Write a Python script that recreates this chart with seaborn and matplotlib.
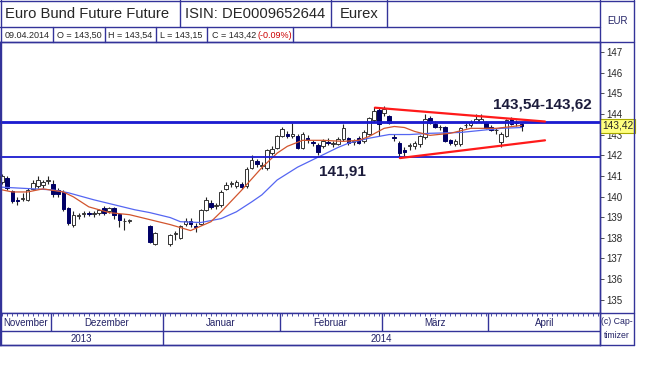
import numpy as np
import pandas as pd
import seaborn as sns
import matplotlib.pyplot as plt
import matplotlib.transforms as mtransforms

nan = np.nan

# daily candles 18.11.2013 - 09.04.2014 (nan = Eurex closed)
opens = [140.70, 140.90, 140.25, 139.85, 139.90, 139.85, 140.35, 140.50, 140.55, 140.75,
         140.60, 140.30, 140.20, 139.45, 138.60, 139.05, 139.15, 139.20, 139.15, 139.20,
         139.45, 139.30, 139.45, 139.15, 138.80, 138.80, nan, nan, nan, 138.55,
         137.70, nan, nan, 137.70, 138.20, 138.00, 138.65, 138.80, 138.55, 138.65,
         139.35, 139.70, 139.55, 139.60, 140.35, 140.60, 140.50, 140.60, 140.50, 141.40,
         141.70, 141.50, 141.40, 142.10, 142.35, 142.95, 143.05, 142.95, 142.95, 142.35,
         142.85, 142.65, 142.50, 142.45, 142.65, 142.55, 142.55, 142.80, 142.85, 142.65,
         142.85, 142.70, 143.05, 143.70, 144.20, 144.05, 143.90, 142.90, 142.60, 142.25,
         142.45, 142.45, 142.55, 142.90, 143.80, 143.50, 143.35, 143.35, 142.72, 142.55,
         142.55, 143.45, 143.45, 143.60, 143.60, 143.60, 143.35, 143.20, 142.65, 142.95,
         143.75, 143.60, 143.50]
highs = [141.10, 141.00, 140.30, 140.00, 140.15, 140.40, 140.80, 141.00, 140.80, 141.00,
         140.80, 140.40, 140.30, 139.50, 139.30, 139.20, 139.30, 139.30, 139.30, 139.40,
         139.55, 139.50, 139.50, 139.20, 138.95, 138.90, nan, nan, nan, 138.60,
         138.30, nan, nan, 138.20, 138.35, 138.60, 138.95, 138.95, 138.70, 139.40,
         140.00, 139.85, 139.70, 140.30, 140.70, 140.75, 140.80, 140.70, 141.45, 142.00,
         141.80, 141.65, 142.30, 142.45, 143.00, 143.35, 143.15, 143.55, 143.05, 143.10,
         143.00, 142.75, 142.60, 142.80, 142.85, 142.70, 142.90, 143.50, 142.90, 142.80,
         142.95, 143.20, 143.85, 144.35, 144.30, 144.40, 143.95, 143.05, 142.70, 142.40,
         142.60, 142.70, 143.00, 144.00, 143.90, 143.65, 143.45, 143.40, 142.80, 142.80,
         143.35, 143.55, 143.70, 144.00, 144.00, 143.65, 143.45, 143.30, 143.10, 143.75,
         143.85, 143.70, 143.54]
lows = [140.60, 140.30, 139.70, 139.60, 139.80, 139.80, 140.30, 140.40, 140.40, 140.60,
        140.00, 140.00, 139.30, 138.60, 138.50, 138.90, 139.00, 139.05, 139.00, 139.10,
        139.10, 139.20, 138.90, 138.50, 138.40, 138.70, nan, nan, nan, 137.75,
        137.65, nan, nan, 137.60, 137.90, 137.95, 138.55, 138.50, 138.30, 138.60,
        139.30, 139.40, 139.40, 139.50, 140.30, 140.45, 140.40, 140.35, 140.40, 141.35,
        141.45, 141.35, 141.30, 142.00, 142.30, 142.90, 142.85, 142.85, 142.30, 142.30,
        142.60, 142.45, 142.00, 142.35, 142.50, 142.40, 142.50, 142.70, 142.50, 142.50,
        142.55, 142.60, 143.00, 143.60, 142.95, 143.90, 143.50, 142.70, 141.91, 141.95,
        142.25, 142.30, 142.40, 142.80, 143.50, 143.30, 143.20, 142.65, 142.50, 142.45,
        142.45, 143.30, 143.35, 143.55, 143.55, 143.25, 143.15, 143.05, 142.40, 142.90,
        143.45, 143.40, 143.15]
closes = [141.00, 140.40, 139.80, 139.80, 139.95, 140.30, 140.65, 140.80, 140.70, 140.80,
          140.10, 140.10, 139.40, 138.70, 139.10, 139.10, 139.20, 139.15, 139.20, 139.35,
          139.20, 139.45, 139.10, 138.85, 138.80, 138.85, nan, nan, nan, 137.80,
          138.25, nan, nan, 138.15, 138.25, 138.55, 138.80, 138.65, 138.50, 139.35,
          139.85, 139.50, 139.60, 140.20, 140.55, 140.65, 140.70, 140.45, 141.35, 141.75,
          141.55, 141.50, 142.25, 142.30, 142.95, 143.25, 142.95, 143.05, 142.35, 143.05,
          142.75, 142.60, 142.15, 142.70, 142.60, 142.55, 142.80, 143.30, 142.60, 142.65,
          142.60, 143.10, 143.80, 144.15, 143.50, 144.25, 143.55, 142.85, 142.10, 142.15,
          142.50, 142.60, 142.95, 143.75, 143.55, 143.35, 143.35, 142.70, 142.58, 142.70,
          143.30, 143.45, 143.60, 143.75, 143.75, 143.30, 143.20, 143.20, 143.05, 143.70,
          143.50, 143.55, 143.42]

# moving averages (day index, value)
ma_slow_days = [0, 10, 13, 18, 22, 26, 29, 33, 35, 39, 43, 46, 49, 51, 54, 58, 62, 66, 68,
                72, 76, 80, 84, 90, 98, 102]
ma_slow_vals = [140.45, 140.32, 140.18, 139.84, 139.60, 139.36, 139.22, 138.98, 138.78, 138.74,
                138.93, 139.26, 139.74, 140.08, 140.80, 141.42, 141.90, 142.38, 142.58,
                142.82, 143.00, 143.00, 143.06, 143.10, 143.30, 143.34]
ma_fast_days = [0, 2, 5, 8, 12, 14, 17, 21, 25, 29, 33, 37, 41, 43, 47, 51, 54, 56, 59, 63,
                67, 70, 72, 75, 77, 79, 81, 84, 88, 92, 97, 102]
ma_fast_vals = [140.32, 140.22, 140.22, 140.37, 140.22, 139.98, 139.50, 139.22, 139.12, 138.88,
                138.64, 138.35, 138.78, 139.26, 140.30, 141.40, 142.10, 142.43, 142.72, 142.72,
                142.67, 142.72, 142.90, 143.30, 143.39, 143.34, 143.15, 142.96, 143.06, 143.30,
                143.30, 143.44]

# support / resistance levels and triangle lines
levels = [143.54, 143.62, 141.91]
upper_days, upper_vals = [73.2, 106.6], [144.30, 143.63]
lower_days, lower_vals = [78.1, 106.6], [141.86, 142.72]
y_ticks = list(range(135, 148))

NAVY = '#333399'
W, H = 650, 365

sns.set_style("white")
plt.rcParams['font.family'] = ['Liberation Sans', 'DejaVu Sans']

dates = pd.bdate_range('2013-11-18', periods=118)
x = np.arange(len(opens))
o, h, l, c = map(np.array, (opens, highs, lows, closes))
xlim = (-0.43, 117.4)

fig = plt.figure(figsize=(W / 100, H / 100), dpi=100)
ax = fig.add_axes([0, (H - 313) / H, 600 / W, (313 - 42) / H])

# candles
ok = ~np.isnan(o)
up = ok & (c >= o)
dn = ok & (c < o)
ax.vlines(x[ok], l[ok], h[ok], color='#222222', lw=0.8, zorder=2)
body = np.maximum(np.abs(c - o), 0.03)
ax.bar(x[up], body[up], bottom=np.minimum(o, c)[up], width=0.7,
       color='white', edgecolor='#333333', linewidth=0.7, zorder=3)
ax.bar(x[dn], body[dn], bottom=np.minimum(o, c)[dn], width=0.7,
       color='#000066', edgecolor='#000066', linewidth=0.7, zorder=3)

sns.lineplot(x=ma_slow_days, y=ma_slow_vals, ax=ax, color='#5566f2', lw=0.9, zorder=4)
sns.lineplot(x=ma_fast_days, y=ma_fast_vals, ax=ax, color='#d2552e', lw=0.9, zorder=4)

for lv in levels:
    ax.axhline(lv, color='#1a1ad0', lw=1.3, zorder=5)
sns.lineplot(x=upper_days, y=upper_vals, ax=ax, color='#ff1a1a', lw=1.6, zorder=6)
sns.lineplot(x=lower_days, y=lower_vals, ax=ax, color='#ff1a1a', lw=1.6, zorder=6)

def fmt(v):
    return f"{v:.2f}".replace('.', ',')

ax.text(66.8, 141.21, fmt(levels[2]), fontsize=11, fontweight='bold',
        color='#1c1c3c', ha='center', va='center', zorder=7)
ax.text(106, 144.47, f"{fmt(levels[0])}-{fmt(levels[1])}", fontsize=11,
        fontweight='bold', color='#1c1c3c', ha='center', va='center', zorder=7)

ax.set_xlim(*xlim)
ax.set_ylim(134.36, 147.48)
ax.set_xticks([])
ax.set_yticks(y_ticks)
ax.yaxis.tick_right()
ax.tick_params(axis='y', direction='out', length=3, width=0.6, labelsize=7,
               pad=1.5, color='#333333', right=True)
for s in ax.spines.values():
    s.set_color(NAVY)
    s.set_linewidth(1)
ax.set_xlabel('')
ax.set_ylabel('')

# last price tag
trans = mtransforms.blended_transform_factory(ax.transAxes, ax.transData)
ax.text(1.003, c[-1], fmt(c[-1]), transform=trans, fontsize=7.3, ha='left', va='center',
        bbox=dict(boxstyle='square,pad=0.18', fc='#ffff80', ec='#a8a800', lw=0.8),
        zorder=8, clip_on=False)

# date axis
dax = fig.add_axes([0, (H - 345) / H, 600 / W, 32 / H])
dax.set_xlim(*xlim)
dax.set_ylim(32, 0)
dax.set_xticks([])
dax.set_yticks([])
for s in dax.spines.values():
    s.set_color(NAVY)
    s.set_linewidth(1)
dax.axhline(18, color=NAVY, lw=1)
dax.vlines(np.arange(len(dates)), 0, 3, color=NAVY, lw=0.6)
months_de = {11: 'November', 12: 'Dezember', 1: 'Januar', 2: 'Februar', 3: 'März', 4: 'April'}
pos = np.arange(len(dates))
mkeys = dates.year * 100 + dates.month
for mk in pd.unique(mkeys):
    idx = pos[mkeys == mk]
    lo, hi = max(idx[0] - 0.5, xlim[0]), min(idx[-1] + 0.5, xlim[1])
    if idx[0] > 0:
        dax.vlines(idx[0] - 0.5, 0, 18, color=NAVY, lw=1)
    dax.text((lo + hi) / 2, 10.5, months_de[mk % 100], fontsize=7, color='#222266',
             ha='center', va='center')
for yr in pd.unique(dates.year):
    idx = pos[dates.year == yr]
    lo, hi = max(idx[0] - 0.5, xlim[0]), min(idx[-1] + 0.5, xlim[1])
    if idx[0] > 0:
        dax.vlines(idx[0] - 0.5, 18, 32, color=NAVY, lw=1)
    dax.text((lo + hi) / 2, 25.5, str(yr), fontsize=7, color='#222266',
             ha='center', va='center')

# header and frame, in pixel units
ov = fig.add_axes([0, 0, 1, 1], zorder=10)
ov.set_xlim(0, W)
ov.set_ylim(H, 0)
ov.axis('off')
ov.patch.set_alpha(0)

def hline(y, x0, x1):
    ov.plot([x0, x1], [y, y], color=NAVY, lw=1)

def vline(xp, y0, y1):
    ov.plot([xp, xp], [y0, y1], color=NAVY, lw=1)

hline(0.5, 0, 634)
hline(27, 0, 600)
hline(42, 0, 634)
hline(345, 0, 634)
hline(313, 600, 634)
vline(0.5, 0, 345)
vline(600, 0, 345)
vline(633.5, 0, 345)
for xp in (180, 331, 387):
    vline(xp, 0, 27)
for xp in (53, 105, 156, 207, 293):
    vline(xp, 27, 42)

ov.text(5, 14, 'Euro Bund Future Future', fontsize=10.6, va='center', ha='left')
ov.text(255, 14, 'ISIN: DE0009652644', fontsize=10.6, va='center', ha='center')
ov.text(359, 14, 'Eurex', fontsize=10.6, va='center', ha='center')
ov.text(617, 21, 'EUR', fontsize=7, va='center', ha='center', color='#222266')

chg = (c[-1] / c[-2] - 1) * 100
ov.text(27, 35, dates[len(opens) - 1].strftime('%d.%m.%Y'), fontsize=6.5, va='center', ha='center')
ov.text(79, 35, f"O = {fmt(o[-1])}", fontsize=6.5, va='center', ha='center')
ov.text(130, 35, f"H = {fmt(h[-1])}", fontsize=6.5, va='center', ha='center')
ov.text(181, 35, f"L = {fmt(l[-1])}", fontsize=6.5, va='center', ha='center')
ov.text(212, 35, f"C = {fmt(c[-1])}", fontsize=6.5, va='center', ha='left')
ov.text(258, 35, f"({chg:.2f}%)", fontsize=6.5, va='center', ha='left', color='#cc0000')

ov.text(617, 322, '(c) Cap-', fontsize=6.3, va='center', ha='center', color='#222266')
ov.text(617, 336, 'timizer', fontsize=6.3, va='center', ha='center', color='#222266')

fig.savefig('out.png', dpi=100)
